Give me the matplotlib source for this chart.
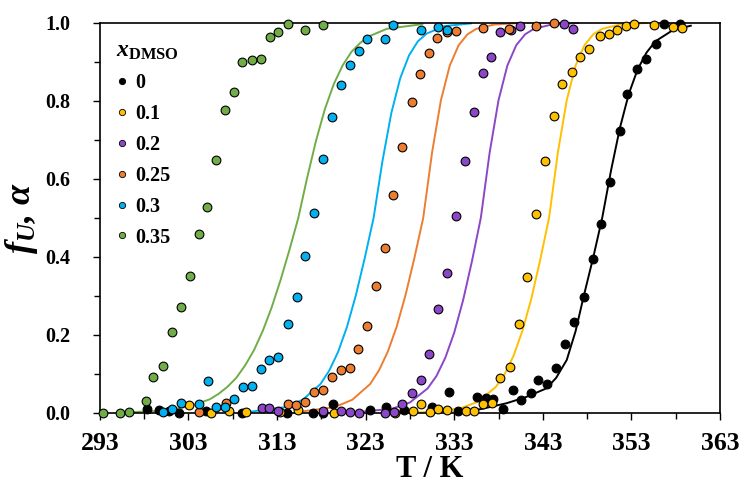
import matplotlib
matplotlib.use('Agg')
import matplotlib.pyplot as plt
from matplotlib.ticker import MultipleLocator, FormatStrFormatter

plt.rcParams['font.family'] = 'Liberation Serif'
plt.rcParams['font.weight'] = 'bold'
plt.rcParams['mathtext.fontset'] = 'custom'
plt.rcParams['mathtext.rm'] = 'Liberation Serif:bold'
plt.rcParams['mathtext.it'] = 'Liberation Serif:italic:bold'
plt.rcParams['mathtext.bf'] = 'Liberation Serif:bold'

# measured points (T / K, fraction unfolded)
T_0 = [298.3, 299.7, 300.8, 301.9, 305.0, 309.0, 314.1, 317.1, 318.2, 319.3, 323.5, 325.3,
       327.3, 330.5, 332.4, 333.4, 335.6, 336.6, 337.4, 338.5, 339.6, 340.5, 341.7, 342.4,
       343.5, 344.5, 345.5, 346.5, 347.6, 348.7, 349.6, 350.6, 351.7, 352.5, 353.6, 354.6,
       355.8, 356.7, 358.5]
f_0 = [0.009, 0.008, 0.005, 0.0, 0.006, 0.0, 0.0, 0.0, 0.0, 0.023, 0.008, 0.015,
       0.008, 0.016, 0.053, 0.006, 0.041, 0.038, 0.035, 0.010, 0.059, 0.033, 0.052, 0.084,
       0.074, 0.115, 0.176, 0.234, 0.297, 0.394, 0.484, 0.592, 0.724, 0.817, 0.881, 0.908,
       0.947, 0.997, 0.997]

T_01 = [303.1, 305.6, 307.6, 309.5, 313.3, 315.4, 319.4, 326.3, 328.3, 329.2, 330.3, 331.2,
        332.2, 334.3, 335.2, 336.2, 337.3, 338.2, 339.3, 340.3, 341.2, 342.2, 343.2, 344.3,
        345.2, 346.3, 347.2, 348.2, 349.5, 350.5, 351.4, 352.4, 353.3, 355.6, 357.7, 358.7]
f_01 = [0.02, 0.0, 0.005, 0.003, 0.002, 0.008, 0.0, 0.0, 0.006, 0.022, 0.003, 0.009,
        0.008, 0.005, 0.006, 0.023, 0.026, 0.091, 0.117, 0.227, 0.348, 0.509, 0.646, 0.762,
        0.844, 0.874, 0.914, 0.933, 0.967, 0.973, 0.982, 0.992, 0.997, 0.995, 0.99, 0.987]

T_02 = [311.3, 312.1, 313.1, 318.2, 320.2, 321.2, 322.3, 325.2, 326.2, 327.1, 328.2, 329.2,
        330.2, 331.2, 332.2, 333.2, 334.2, 335.2, 336.2, 337.2, 338.2, 339.4, 340.4, 345.4,
        346.4]
f_02 = [0.014, 0.014, 0.006, 0.006, 0.005, 0.002, 0.0, 0.0, 0.003, 0.023, 0.05, 0.085,
        0.152, 0.267, 0.358, 0.505, 0.645, 0.773, 0.872, 0.912, 0.976, 0.981, 0.992, 0.997,
        0.985]

T_025 = [304.2, 307.2, 314.2, 315.1, 316.2, 317.2, 318.2, 319.2, 320.2, 321.2, 322.1, 323.2,
         324.2, 325.2, 326.1, 327.1, 328.2, 329.1, 330.2, 331.1, 332.2, 333.2, 336.2, 339.2,
         342.2, 344.3]
f_025 = [0.003, 0.025, 0.023, 0.02, 0.027, 0.053, 0.06, 0.092, 0.109, 0.116, 0.165, 0.224,
         0.326, 0.424, 0.559, 0.681, 0.798, 0.87, 0.924, 0.962, 0.977, 0.979, 0.987, 0.985,
         0.993, 0.999]

T_03 = [300.1, 301.2, 302.2, 304.2, 305.2, 306.1, 307.1, 308.1, 309.2, 310.2, 311.2, 312.1,
        313.1, 314.2, 315.2, 316.2, 317.2, 318.2, 319.2, 320.2, 321.2, 322.2, 323.2, 325.2,
        326.1, 329.2, 331.2, 332.2]
f_03 = [0.002, 0.009, 0.025, 0.023, 0.082, 0.016, 0.015, 0.035, 0.066, 0.069, 0.113, 0.136,
        0.144, 0.229, 0.298, 0.403, 0.514, 0.651, 0.758, 0.841, 0.892, 0.929, 0.958, 0.958,
        0.995, 0.983, 0.989, 0.981]

T_035 = [293.4, 295.3, 296.3, 298.2, 299.0, 300.1, 301.2, 302.2, 303.2, 304.2, 305.1, 306.1,
         307.1, 308.1, 309.1, 310.2, 311.2, 312.2, 313.1, 314.2, 316.2, 318.2]
f_035 = [0.0, 0.0, 0.002, 0.03, 0.093, 0.12, 0.208, 0.271, 0.35, 0.459, 0.527, 0.649,
         0.777, 0.824, 0.9, 0.904, 0.908, 0.965, 0.977, 0.997, 0.982, 0.994]

# fitted curves
Tc_0 = [333.2, 336.0, 338.9, 341.0, 343.4, 344.5, 345.7, 346.7, 347.6, 348.7, 349.7, 350.7,
        351.7, 352.7, 353.7, 354.7, 355.7, 357.7, 359.7]
fc_0 = [0.0, 0.01, 0.025, 0.04, 0.063, 0.09, 0.136, 0.21, 0.298, 0.40, 0.5, 0.622,
        0.731, 0.818, 0.881, 0.924, 0.953, 0.982, 0.993]
Tc_01 = [326.0, 329.7, 333.7, 335.7, 337.7, 338.7, 339.7, 340.7, 341.7, 342.7, 343.7, 344.7,
         345.7, 346.7, 347.7, 348.7, 349.7, 351.7, 354.7]
fc_01 = [0.0, 0.002, 0.012, 0.029, 0.067, 0.100, 0.147, 0.211, 0.293, 0.392, 0.5, 0.668,
         0.802, 0.891, 0.943, 0.971, 0.985, 0.996, 1.0]
Tc_02 = [322, 326, 328, 330, 331, 332, 333, 334, 335, 336, 337, 338, 339, 340, 341, 342, 344, 347]
fc_02 = [0.002, 0.011, 0.027, 0.063, 0.095, 0.142, 0.206, 0.289, 0.389, 0.5, 0.668, 0.802,
         0.891, 0.943, 0.971, 0.985, 0.996, 1.0]
Tc_025 = [315.5, 319.5, 321.5, 323.5, 324.5, 325.5, 326.5, 327.5, 328.5, 329.5, 330.5, 331.5,
          332.5, 333.5, 334.5, 335.5, 337.5, 340.5]
fc_025 = [0.003, 0.015, 0.034, 0.074, 0.109, 0.157, 0.221, 0.302, 0.397, 0.5, 0.668, 0.802,
          0.891, 0.943, 0.971, 0.985, 0.996, 1.0]
Tc_03 = [309.9, 313.9, 315.9, 317.9, 318.9, 319.9, 320.9, 321.9, 322.9, 323.9, 324.9, 325.9,
         326.9, 327.9, 328.9, 329.9, 331.9, 334.9]
fc_03 = [0.003, 0.015, 0.034, 0.074, 0.109, 0.157, 0.221, 0.302, 0.397, 0.5, 0.646, 0.769,
         0.858, 0.917, 0.953, 0.973, 0.992, 0.999]
Tc_035 = [296.4, 299.4, 301.4, 303.4, 305.4, 306.4, 307.4, 308.4, 309.4, 310.4, 311.4, 312.4,
          313.4, 314.4, 315.4, 316.4, 317.4, 318.4, 319.4, 320.4, 321.4, 322.4, 323.4, 325.4,
          329.4]
fc_035 = [0.002, 0.005, 0.01, 0.019, 0.035, 0.049, 0.067, 0.090, 0.122, 0.161, 0.211, 0.271,
          0.341, 0.418, 0.5, 0.603, 0.698, 0.779, 0.843, 0.891, 0.926, 0.949, 0.966, 0.985,
          0.997]

labels = ['0', '0.1', '0.2', '0.25', '0.3', '0.35']
colors = ['#000000', '#ffc000', '#8b47c7', '#ed7d31', '#00b0f0', '#70ad47']
points = [(T_0, f_0), (T_01, f_01), (T_02, f_02), (T_025, f_025), (T_03, f_03), (T_035, f_035)]
curves = [(Tc_0, fc_0), (Tc_01, fc_01), (Tc_02, fc_02), (Tc_025, fc_025), (Tc_03, fc_03), (Tc_035, fc_035)]

fig = plt.figure(figsize=(7.41, 4.88), dpi=100)
ax = fig.add_axes([0.1347, 0.1537, 0.8370, 0.7992])

for (tc, fc), col in zip(curves, colors):
    ax.plot(tc, fc, color=col, lw=1.4, zorder=2, clip_on=False)

for (t, f), col, lab in zip(points, colors, labels):
    ax.plot(t, f, 'o', color=col, mec='#000000', mew=0.8, ms=6.3, ls='none',
            label=lab, zorder=3, clip_on=False)

ax.set_xlim(293, 363)
ax.set_ylim(0, 1)
ax.set_xticks(list(range(293, 364, 10)))
ax.set_xticks(list(range(298, 363, 10)), minor=True)
ax.yaxis.set_major_locator(MultipleLocator(0.2))
ax.yaxis.set_minor_locator(MultipleLocator(0.1))
ax.yaxis.set_major_formatter(FormatStrFormatter('%.1f'))

for s in ax.spines.values():
    s.set_linewidth(1.2)
ax.tick_params(which='both', direction='out', width=1.0)
ax.tick_params(which='major', length=5)
ax.tick_params(which='minor', length=4)
ax.tick_params(axis='x', which='major', labelsize=18.5, pad=9)
ax.tick_params(axis='y', which='major', labelsize=14.5, pad=16)

ax.set_xlabel('T / K', fontsize=22, fontweight='bold', labelpad=0)
ax.xaxis.label.set_x(0.5315)
ax.set_ylabel(r'$f_U$, α', fontsize=26, fontweight='bold', fontstyle='italic', labelpad=4)

leg = ax.legend(loc='upper left', bbox_to_anchor=(0.003, 0.99), frameon=False,
                title=r'$x_{\mathbf{DMSO}}$', title_fontsize=17, fontsize=14.5,
                markerscale=0.72, handlelength=0.6, handletextpad=0.35,
                labelspacing=0.54, borderaxespad=0.3, alignment='left')
for h in leg.legend_handles:
    h.set_markeredgewidth(0.6)

fig.savefig('out.png', dpi=100)
